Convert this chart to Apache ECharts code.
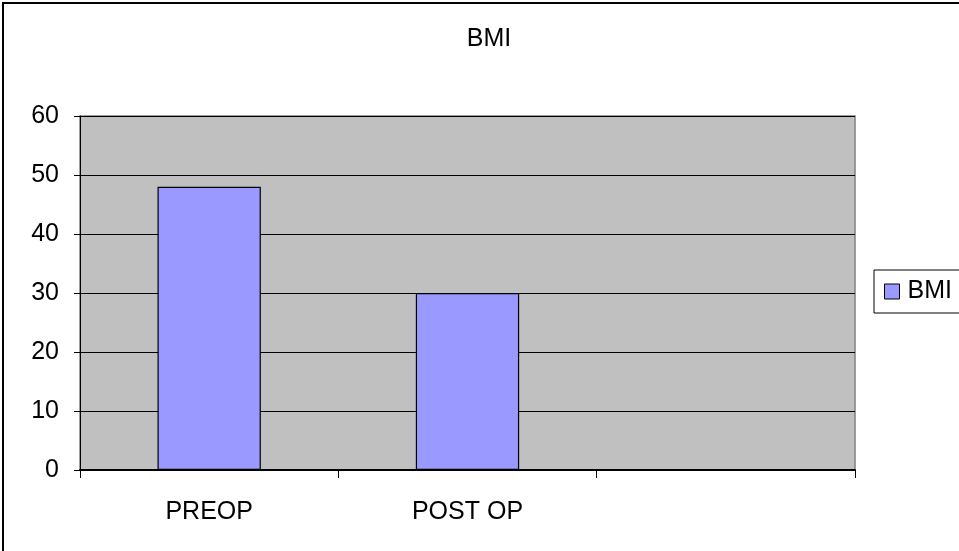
<!DOCTYPE html>
<html>
<head>
<meta charset="utf-8">
<script src="https://cdn.jsdelivr.net/npm/echarts@6/dist/echarts.min.js"></script>
<style>html,body{margin:0;padding:0;background:#fff;}#c{width:959px;height:551px;}</style>
</head>
<body>
<div id="c"></div>
<script>
const categories = ['PREOP', 'POST OP', ''];
const bmiValues = [48, 30, null];
const yTicks = { min: 0, max: 60, interval: 10 };
const seriesName = 'BMI';
const titleText = 'BMI';

const chart = echarts.init(document.getElementById('c'), null, { renderer: 'canvas' });
const font = 'Liberation Sans, Arial, sans-serif';
chart.setOption({
  animation: false,
  backgroundColor: '#ffffff',
  title: {
    text: titleText, left: 489, top: 27, textAlign: 'center', padding: 0,
    textStyle: { fontFamily: font, fontSize: 25, fontWeight: 'normal', color: '#000' }
  },
  grid: {
    left: 80, right: 104, top: 116, bottom: 81,
    show: true, backgroundColor: '#c0c0c0', borderColor: '#808080', borderWidth: 1.5
  },
  legend: {
    data: [seriesName], left: 874, top: 270, orient: 'vertical',
    icon: 'rect', itemWidth: 15, itemHeight: 15, itemGap: 4,
    backgroundColor: '#fff', borderColor: '#000', borderWidth: 1,
    padding: [9, 20, 9, 10],
    itemStyle: { borderColor: '#000', borderWidth: 1 },
    textStyle: { fontFamily: font, fontSize: 25, color: '#000', padding: [0, 0, 0, 3] }
  },
  xAxis: {
    type: 'category', data: categories, boundaryGap: true,
    axisLine: { lineStyle: { color: '#000', width: 2 } },
    axisTick: { show: true, length: 8, alignWithLabel: false, lineStyle: { color: '#000' } },
    axisLabel: { fontFamily: font, fontSize: 25, color: '#000', margin: 30 },
    splitLine: { show: false }
  },
  yAxis: {
    type: 'value', min: yTicks.min, max: yTicks.max, interval: yTicks.interval,
    axisLine: { show: true, lineStyle: { color: '#000', width: 1 } },
    axisTick: { show: true, length: 6, lineStyle: { color: '#000' } },
    axisLabel: { fontFamily: font, fontSize: 25, color: '#000', margin: 21 },
    splitLine: { show: true, lineStyle: { color: '#000', width: 1.2 } }
  },
  series: [{
    name: seriesName, type: 'bar', data: bmiValues, barWidth: '40%',
    itemStyle: { color: '#9999ff', borderColor: '#000', borderWidth: 1.2 }
  }],
  graphic: [{
    type: 'rect', silent: true, z: 100,
    shape: { x: 3, y: 3, width: 1000, height: 700 },
    style: { fill: 'none', stroke: '#000', lineWidth: 2 }
  }]
});
</script>
</body>
</html>
